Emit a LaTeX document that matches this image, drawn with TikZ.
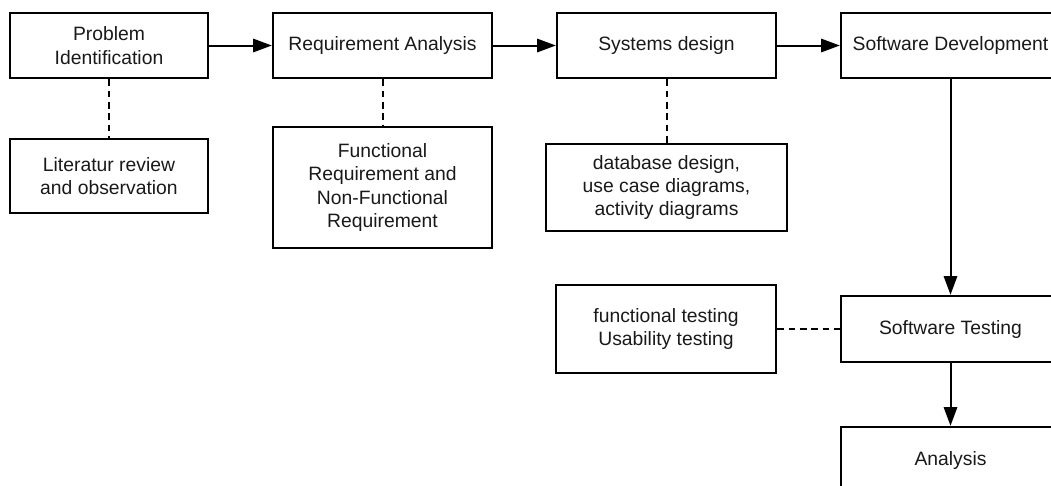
\documentclass[tikz,border=0pt]{standalone}
\usepackage{fontspec}
\setmainfont{Liberation Sans}
\usetikzlibrary{arrows.meta}
\begin{document}
\begin{tikzpicture}[x=0.75pt,y=-0.75pt,
  box/.style={draw, line width=1.8pt, inner sep=0pt, align=center,
    font=\fontsize{14.5pt}{17.5pt}\selectfont, text=black!90},
  flow/.style={line width=1.5pt, -{Triangle[length=14pt,width=10pt]}},
  link/.style={line width=1.5pt, dash pattern=on 5pt off 3.5pt}]
\useasboundingbox (0,0) rectangle (1051,486);
\clip (0,0) rectangle (1051,486);
\node[box, minimum width=148.5pt, minimum height=48.75pt] (pi) at (109,45.5) {Problem\\Identification};
\node[box, minimum width=164.25pt, minimum height=48.75pt] (ra) at (382.5,45.5) {Requirement Analysis};
\node[box, minimum width=164.25pt, minimum height=48.75pt] (sd) at (666.5,45.5) {Systems design};
\node[box, minimum width=164.25pt, minimum height=48.75pt] (dev) at (950.5,45.5) {Software Development};
\node[box, minimum width=148.5pt, minimum height=55.5pt] (lit) at (109,176) {Literatur review\\and observation};
\node[box, minimum width=164.25pt, minimum height=90.75pt] (fr) at (382.5,187.5) {Functional\\Requirement and\\Non-Functional\\Requirement};
\node[box, minimum width=180.75pt, minimum height=65.25pt] (db) at (666.5,187.5) {database design,\\use case diagrams,\\activity diagrams};
\node[box, minimum width=165pt, minimum height=66pt] (ft) at (666,329) {functional testing\\Usability testing};
\node[box, minimum width=164.25pt, minimum height=49.5pt] (st) at (950.5,329) {Software Testing};
\node[box, minimum width=164.25pt, minimum height=49.5pt] (an) at (950.5,460) {Analysis};
\draw[flow] (pi) -- (ra);
\draw[flow] (ra) -- (sd);
\draw[flow] (sd) -- (dev);
\draw[flow] (dev) -- (st);
\draw[flow] (st) -- (an);
\draw[link] (pi) -- (lit);
\draw[link] (ra) -- (fr);
\draw[link] (sd) -- (db);
\draw[link] (ft) -- (st);
\end{tikzpicture}
\end{document}
